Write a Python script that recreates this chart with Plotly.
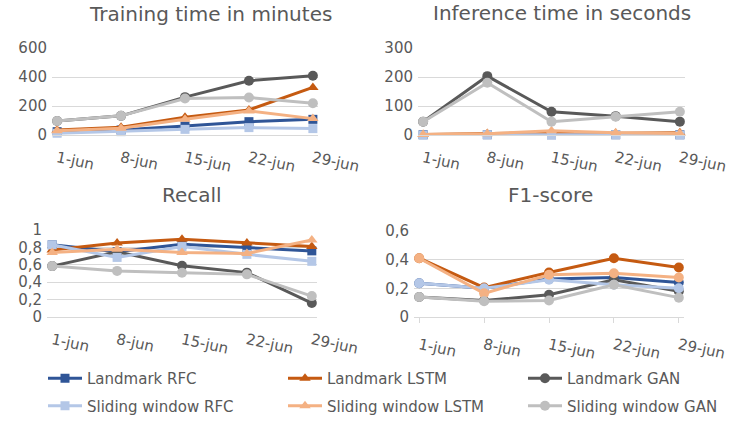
import plotly.graph_objects as go

W, H = 729, 422

dates = ["1-jun", "8-jun", "15-jun", "22-jun", "29-jun"]
series_names = ["Landmark RFC", "Landmark LSTM", "Landmark GAN",
                "Sliding window RFC", "Sliding window LSTM", "Sliding window GAN"]

training = {
    "Landmark RFC":        [23, 35, 62, 92, 108],
    "Landmark LSTM":       [35, 53, 122, 173, 328],
    "Landmark GAN":        [97, 132, 261, 374, 409],
    "Sliding window RFC":  [12, 23, 39, 51, 44],
    "Sliding window LSTM": [30, 46, 109, 166, 113],
    "Sliding window GAN":  [97, 132, 252, 259, 219],
}
inference = {
    "Landmark RFC":        [1, 1, 1, 1, 1],
    "Landmark LSTM":       [2, 5, 8, 6, 8],
    "Landmark GAN":        [46, 203, 80, 65, 46],
    "Sliding window RFC":  [0, 1, 0, 1, 0],
    "Sliding window LSTM": [2, 4, 15, 8, 5],
    "Sliding window GAN":  [46, 180, 46, 63, 80],
}
recall = {
    "Landmark RFC":        [0.83, 0.75, 0.835, 0.80, 0.76],
    "Landmark LSTM":       [0.77, 0.85, 0.895, 0.85, 0.81],
    "Landmark GAN":        [0.585, 0.75, 0.59, 0.51, 0.16],
    "Sliding window RFC":  [0.83, 0.685, 0.81, 0.72, 0.64],
    "Sliding window LSTM": [0.74, 0.78, 0.74, 0.73, 0.885],
    "Sliding window GAN":  [0.585, 0.53, 0.51, 0.49, 0.24],
}
f1 = {
    "Landmark RFC":        [0.235, 0.20, 0.265, 0.275, 0.24],
    "Landmark LSTM":       [0.41, 0.205, 0.31, 0.41, 0.345],
    "Landmark GAN":        [0.14, 0.115, 0.155, 0.26, 0.18],
    "Sliding window RFC":  [0.235, 0.20, 0.26, 0.225, 0.20],
    "Sliding window LSTM": [0.41, 0.165, 0.295, 0.305, 0.275],
    "Sliding window GAN":  [0.14, 0.11, 0.115, 0.225, 0.135],
}

colors = {
    "Landmark RFC": "#2F5597",
    "Landmark LSTM": "#C55A11",
    "Landmark GAN": "#595959",
    "Sliding window RFC": "#B4C7E7",
    "Sliding window LSTM": "#F4B183",
    "Sliding window GAN": "#BFBFBF",
}
symbols = {
    "Landmark RFC": "square", "Landmark LSTM": "triangle-up", "Landmark GAN": "circle",
    "Sliding window RFC": "square", "Sliding window LSTM": "triangle-up", "Sliding window GAN": "circle",
}
msize = {"square": 9, "triangle-up": 10, "circle": 10}
legend_of = {
    "Landmark RFC": "legend", "Sliding window RFC": "legend",
    "Landmark LSTM": "legend2", "Sliding window LSTM": "legend2",
    "Landmark GAN": "legend3", "Sliding window GAN": "legend3",
}

panels = [
    (training, "Training time in minutes", "", (52, 318), (48, 135), [0, 600], 200, False, (210, 14)),
    (inference, "Inference time in seconds", "2", (418, 685), (48, 135), [0, 300], 100, False, (562, 13)),
    (recall, "Recall", "3", (47, 317), (230, 317), [0, 1], 0.2, False, (192, 195)),
    (f1, "F1-score", "4", (414, 684), (231, 317), [0, 0.6], 0.2, True, (550, 195)),
]

fig = go.Figure()
grey = "#595959"
font_family = "DejaVu Sans"

for pi, (data, title, sfx, xpx, ypx, yr, dt, allcirc, tpos) in enumerate(panels):
    for name in series_names:
        sym = "circle" if allcirc else symbols[name]
        fig.add_trace(go.Scatter(
            x=dates, y=data[name], name=name, mode="lines+markers",
            line=dict(color=colors[name], width=3),
            marker=dict(symbol=sym, size=msize[sym], color=colors[name]),
            xaxis="x" + sfx, yaxis="y" + sfx,
            legendgroup=name, showlegend=(pi == 0), legend=legend_of[name],
            cliponaxis=False,
        ))
    xa = dict(
        domain=[xpx[0] / W, xpx[1] / W], anchor="y" + sfx,
        type="category", range=[-0.08, 4.08], automargin=False,
        showgrid=False, showline=True, linecolor="#D9D9D9", linewidth=1,
        tickangle=12, tickfont=dict(size=15, color=grey, family=font_family),
        ticks="outside" if allcirc else "", ticklen=5, tickcolor="#D9D9D9",
        ticklabelstandoff=8, zeroline=False,
    )
    ya = dict(
        domain=[1 - ypx[1] / H, 1 - ypx[0] / H], anchor="x" + sfx,
        range=yr, dtick=dt, tick0=0, showgrid=True, gridcolor="#D9D9D9", gridwidth=1,
        showline=False, zeroline=False, automargin=False,
        tickfont=dict(size=15, color=grey, family=font_family),
        ticklabelstandoff=4,
    )
    fig.layout["xaxis" + sfx] = xa
    fig.layout["yaxis" + sfx] = ya
    fig.add_annotation(
        text=title, x=tpos[0] / W, y=1 - tpos[1] / H, xref="paper", yref="paper",
        xanchor="center", yanchor="middle", showarrow=False,
        font=dict(size=20, color=grey, family=font_family),
    )

leg_common = dict(
    orientation="v", xanchor="left", yanchor="top", bgcolor="rgba(0,0,0,0)",
    font=dict(size=15, color=grey, family=font_family), tracegroupgap=5,
    itemclick=False, itemdoubleclick=False, itemwidth=34,
)
leg_y = 1 - 362 / H
fig.update_layout(
    width=W, height=H, margin=dict(l=0, r=0, t=0, b=0, autoexpand=False),
    paper_bgcolor="white", plot_bgcolor="white",
    separators=",.",
    font=dict(family=font_family, color=grey),
    legend=dict(x=43 / W, y=leg_y, **leg_common),
    legend2=dict(x=283 / W, y=leg_y, **leg_common),
    legend3=dict(x=523 / W, y=leg_y, **leg_common),
)

fig.write_html(
    "out.html",
    config={"displayModeBar": False},
    post_script="document.body.style.margin='0px';document.body.style.overflow='hidden';",
)
